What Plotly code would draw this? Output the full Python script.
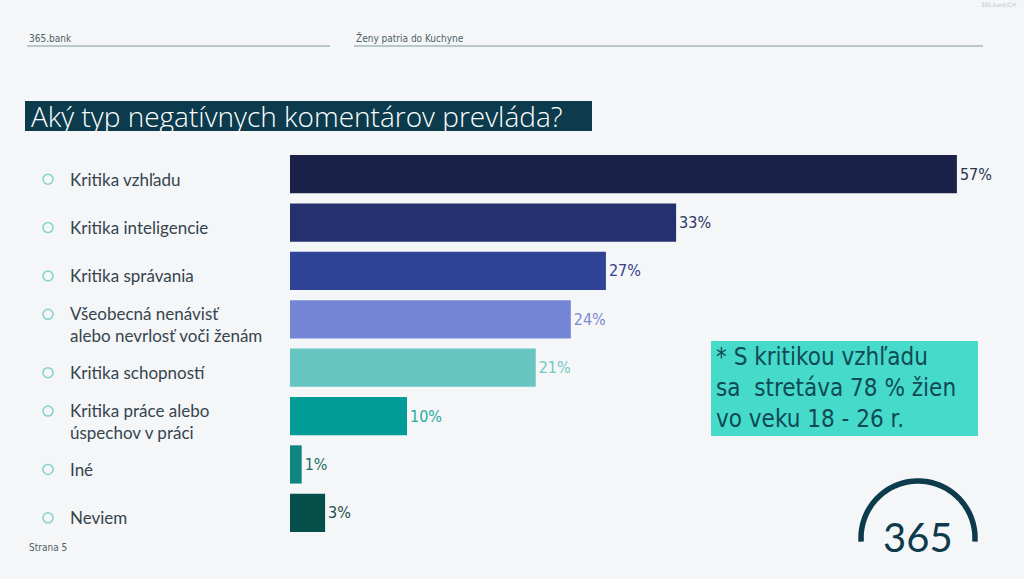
import numpy as np
import plotly.graph_objects as go

# data
categories = [
    "Kritika vzhľadu",
    "Kritika inteligencie",
    "Kritika správania",
    "Všeobecná nenávisť<br>alebo nevrlosť voči ženám",
    "Kritika schopností",
    "Kritika práce alebo<br>úspechov v práci",
    "Iné",
    "Neviem",
]
values = [57, 33, 27, 24, 21, 10, 1, 3]
bar_colors = ["#1b2249", "#25306f", "#2f4397", "#7385d4", "#67c5c2", "#029b96", "#0f8580", "#064f4b"]
text_colors = ["#2b3352", "#2b3566", "#34408a", "#7d8ad0", "#72c9c4", "#2aa9a2", "#1e6e69", "#1f4f4c"]

title = "Aký typ negatívnych komentárov prevláda?"
note = "* S kritikou vzhľadu<br>sa  stretáva 78 % žien<br>vo veku 18 - 26 r."

# plot area in pixels (for placing the slide decorations)
L, R, T, B = 290, 992, 150, 537


def px(x):
    return (x - L) / (R - L)


def py(y):
    return (B - y) / (B - T)


ypos = list(range(len(categories)))
narrow = "Liberation Sans Narrow, DejaVu Sans Condensed"

fig = go.Figure()
fig.add_trace(
    go.Bar(
        x=values,
        y=ypos,
        orientation="h",
        marker=dict(color=bar_colors, line=dict(width=0)),
        text=[f"{v}%" for v in values],
        textposition="outside",
        textfont=dict(family=narrow, size=16, color=text_colors),
        cliponaxis=False,
        hoverinfo="skip",
        showlegend=False,
    )
)

shapes = []
annotations = []

# category labels with round bullets
for i, label in enumerate(categories):
    nlines = label.count("<br>") + 1
    annotations.append(dict(
        text=label, x=px(68), y=i, xref="paper", yref="y",
        xanchor="left", yanchor="middle", align="left", showarrow=False, yshift=-5,
        font=dict(family="Lato", size=17, color="#36444e"),
    ))
    shapes.append(dict(
        type="circle", xref="paper", yref="y", xsizemode="pixel", ysizemode="pixel",
        xanchor=px(48), yanchor=i, x0=-5, x1=5, y0=-5 + (nlines - 1) * 10 - 5, y1=5 + (nlines - 1) * 10 - 5,
        line=dict(color="#86d2cb", width=1.5),
    ))

# header
for x0, x1, txt in [(27, 330, "365.bank"), (354, 983, "Ženy patria do Kuchyne")]:
    shapes.append(dict(type="line", xref="paper", yref="paper", x0=px(x0), x1=px(x1), y0=py(46), y1=py(46),
                       line=dict(color="#b9c8cd", width=2)))
    annotations.append(dict(text=txt, x=px(x0), y=py(38), xref="paper", yref="paper", xanchor="left",
                            yanchor="middle", showarrow=False,
                            font=dict(family=narrow, size=10, color="#4f5f66")))
annotations.append(dict(text="365.bank/CH", x=px(1018), y=py(5), xref="paper", yref="paper", xanchor="right",
                        yanchor="middle", showarrow=False,
                        font=dict(family=narrow, size=6, color="#c3c7ca")))
annotations.append(dict(text="Strana 5", x=px(27), y=py(547), xref="paper", yref="paper", xanchor="left",
                        yanchor="middle", showarrow=False,
                        font=dict(family=narrow, size=10, color="#4f5f66")))

# title box
shapes.append(dict(type="rect", xref="paper", yref="paper", x0=px(25), x1=px(592), y0=py(101), y1=py(131),
                   fillcolor="#0b3b4c", line=dict(width=0), layer="below"))
annotations.append(dict(
    text=title, x=px(29), y=py(115.5), xref="paper", yref="paper", xanchor="left", yanchor="middle",
    showarrow=False, font=dict(family="Open Sans", size=28, color="#ffffff", weight=300),
))

# callout box
shapes.append(dict(type="rect", xref="paper", yref="paper", x0=px(711), x1=px(978), y0=py(341), y1=py(436),
                   fillcolor="#46dacb", line=dict(width=0), layer="below"))
annotations.append(dict(
    text=note, x=px(714), y=py(388), xref="paper", yref="paper", xanchor="left", yanchor="middle",
    align="left", showarrow=False,
    font=dict(family=narrow, size=24, color="#0f4a54"),
))

# logo
t = np.linspace(np.pi * 1.02, -np.pi * 0.02, 60)
arc = "M " + " L ".join(f"{57 * np.cos(a):.2f},{57 * np.sin(a):.2f}" for a in t)
shapes.append(dict(type="path", xref="paper", yref="paper", xsizemode="pixel", ysizemode="pixel",
                   xanchor=px(918), yanchor=py(538), path=arc, line=dict(color="#0d3b4b", width=5.5)))
annotations.append(dict(text="365", x=px(918), y=py(537), xref="paper", yref="paper", xanchor="center",
                        yanchor="middle", showarrow=False,
                        font=dict(family="Lato", size=40, color="#0d3b4b")))

fig.update_layout(
    width=1024,
    height=579,
    margin=dict(l=L, r=1024 - R, t=T, b=579 - B),
    paper_bgcolor="#f4f6f8",
    plot_bgcolor="#f4f6f8",
    bargap=0.21,
    xaxis=dict(range=[0, 60], visible=False, fixedrange=True),
    yaxis=dict(range=[len(categories) - 0.5, -0.5], visible=False, fixedrange=True),
    shapes=shapes,
    annotations=annotations,
)

fig.write_html(
    "out.html",
    config={"displayModeBar": False},
    post_script="document.body.style.margin='0';document.body.style.overflow='hidden';",
)
